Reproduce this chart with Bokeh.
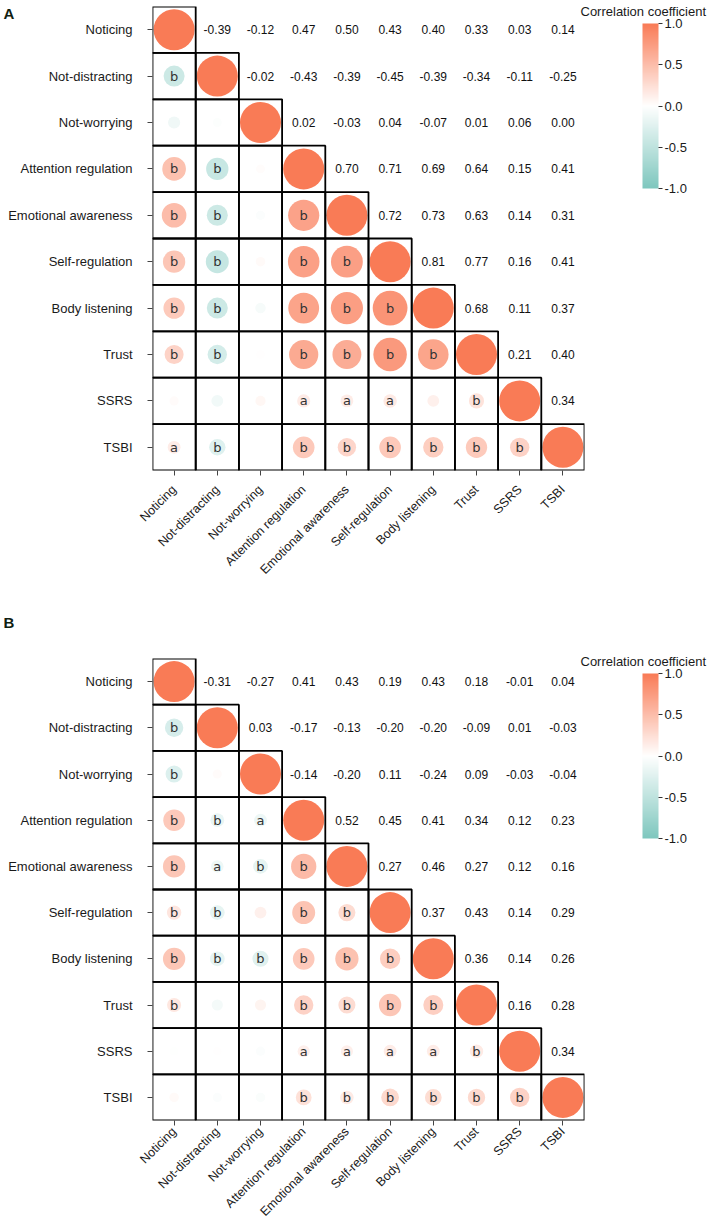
import math
import numpy as np
from bokeh.plotting import figure
from bokeh.layouts import column
from bokeh.models import (ColumnDataSource, FactorRange, LinearColorMapper, ColorBar,
                          FixedTicker, PrintfTickFormatter)
from bokeh.core.properties import value
from bokeh.embed import file_html
from bokeh.resources import INLINE

variables = ["Noticing", "Not-distracting", "Not-worrying", "Attention regulation",
             "Emotional awareness", "Self-regulation", "Body listening", "Trust", "SSRS", "TSBI"]

# ---- Panel A: upper-triangle correlations (row i, columns i+1 ..)
A_noticing = [-0.39, -0.12, 0.47, 0.50, 0.43, 0.40, 0.33, 0.03, 0.14]
A_not_distracting = [-0.02, -0.43, -0.39, -0.45, -0.39, -0.34, -0.11, -0.25]
A_not_worrying = [0.02, -0.03, 0.04, -0.07, 0.01, 0.06, 0.00]
A_attention = [0.70, 0.71, 0.69, 0.64, 0.15, 0.41]
A_emotional = [0.72, 0.73, 0.63, 0.14, 0.31]
A_self_reg = [0.81, 0.77, 0.16, 0.41]
A_body = [0.68, 0.11, 0.37]
A_trust = [0.21, 0.40]
A_ssrs = [0.34]

# Panel A: significance letters, lower triangle (row i, columns 0 .. i-1)
A_let_not_distracting = ["b"]
A_let_not_worrying = ["", ""]
A_let_attention = ["b", "b", ""]
A_let_emotional = ["b", "b", "", "b"]
A_let_self_reg = ["b", "b", "", "b", "b"]
A_let_body = ["b", "b", "", "b", "b", "b"]
A_let_trust = ["b", "b", "", "b", "b", "b", "b"]
A_let_ssrs = ["", "", "", "a", "a", "a", "", "b"]
A_let_tsbi = ["a", "b", "", "b", "b", "b", "b", "b", "b"]

# ---- Panel B
B_noticing = [-0.31, -0.27, 0.41, 0.43, 0.19, 0.43, 0.18, -0.01, 0.04]
B_not_distracting = [0.03, -0.17, -0.13, -0.20, -0.20, -0.09, 0.01, -0.03]
B_not_worrying = [-0.14, -0.20, 0.11, -0.24, 0.09, -0.03, -0.04]
B_attention = [0.52, 0.45, 0.41, 0.34, 0.12, 0.23]
B_emotional = [0.27, 0.46, 0.27, 0.12, 0.16]
B_self_reg = [0.37, 0.43, 0.14, 0.29]
B_body = [0.36, 0.14, 0.26]
B_trust = [0.16, 0.28]
B_ssrs = [0.34]

B_let_not_distracting = ["b"]
B_let_not_worrying = ["b", ""]
B_let_attention = ["b", "b", "a"]
B_let_emotional = ["b", "a", "b", "b"]
B_let_self_reg = ["b", "b", "", "b", "b"]
B_let_body = ["b", "b", "b", "b", "b", "b"]
B_let_trust = ["b", "", "", "b", "b", "b", "b"]
B_let_ssrs = ["", "", "", "a", "a", "a", "a", "b"]
B_let_tsbi = ["", "", "", "b", "b", "b", "b", "b", "b"]

colorbar_ticks = [-1.0, -0.5, 0.0, 0.5, 1.0]
colorbar_title = "Correlation coefficient"

LOW_COLOR = (126, 199, 190)
MID_COLOR = (255, 255, 255)
HIGH_COLOR = (249, 123, 86)


def make_palette(n=128):
    pal = []
    for t in np.linspace(0, 1, n):
        c = [int(round(a + (b - a) * t)) for a, b in zip(LOW_COLOR, MID_COLOR)]
        pal.append("#%02x%02x%02x" % tuple(c))
    for t in np.linspace(0, 1, n)[1:]:
        c = [int(round(a + (b - a) * t)) for a, b in zip(MID_COLOR, HIGH_COLOR)]
        pal.append("#%02x%02x%02x" % tuple(c))
    return pal


PALETTE = make_palette()


def caption(text, loc, size, bold=False, color="#1a1a1a"):
    """A text-only colour-bar annotation (its bar is transparent) used as a free caption."""
    return ColorBar(color_mapper=LinearColorMapper(palette=["#ffffff"], low=0, high=1),
                    orientation="horizontal",
                    title=text, title_text_font="Liberation Sans", title_text_font_size=size,
                    title_text_font_style="bold" if bold else "normal",
                    title_text_color=color, title_standoff=0,
                    width=1, height=1, scale_alpha=0, location=loc,
                    ticker=FixedTicker(ticks=[]), major_tick_line_color=None,
                    minor_tick_line_color=None, major_label_text_alpha=0,
                    bar_line_color=None, border_line_color=None,
                    background_fill_color=None, padding=0, margin=0)


def build_panel(tag, upper_rows, letter_rows, height, top, bottom, xstandoff, tag_y):
    n = len(variables)
    M = np.eye(n)
    for i, row in enumerate(upper_rows):
        for k, v in enumerate(row):
            j = i + 1 + k
            M[i, j] = v
            M[j, i] = v
    L = [[""] * n for _ in range(n)]
    for k, row in enumerate(letter_rows):
        i = k + 1
        for j, s in enumerate(row):
            L[i][j] = s

    lx, ly, lr, lrad, llet = [], [], [], [], []
    ux, uy, utxt = [], [], []
    for i in range(n):
        for j in range(n):
            r = M[i, j]
            if j <= i:
                lx.append(variables[j]); ly.append(variables[i]); lr.append(r)
                lrad.append(0.095 + 0.38 * abs(r))
                llet.append(L[i][j])
            else:
                ux.append(variables[j]); uy.append(variables[i]); utxt.append(f"{r:.2f}")

    low_src = ColumnDataSource(dict(x=lx, y=ly, r=lr, rad=lrad, letter=llet))
    up_src = ColumnDataSource(dict(x=ux, y=uy, text=utxt))
    let_idx = [k for k, s in enumerate(llet) if s]
    let_src = ColumnDataSource(dict(x=[lx[k] for k in let_idx], y=[ly[k] for k in let_idx],
                                    text=[llet[k] for k in let_idx]))

    mapper = LinearColorMapper(palette=PALETTE, low=-1, high=1)

    p = figure(width=715, height=height,
               x_range=FactorRange(factors=variables),
               y_range=FactorRange(factors=variables[::-1]),
               output_backend="svg", toolbar_location=None,
               min_border_left=152, min_border_right=131,
               min_border_top=top, min_border_bottom=bottom)
    p.outline_line_color = None
    p.grid.visible = False
    p.background_fill_color = "white"

    p.circle(x="x", y="y", radius="rad", source=low_src,
             fill_color={"field": "r", "transform": mapper}, line_color=None)
    p.rect(x="x", y="y", width=1, height=1, source=low_src,
           fill_color=None, line_color="black", line_width=1.8)
    p.text(x="x", y="y", text="text", source=let_src, text_align="center",
           text_baseline="middle", text_font=value("DejaVu Sans"),
           text_font_size="13px", text_color="#333333")
    p.text(x="x", y="y", text="text", source=up_src, text_align="center",
           text_baseline="middle", text_font=value("Liberation Sans"),
           text_font_size="12px", text_color="#111111")

    for ax in (p.xaxis, p.yaxis):
        ax.axis_line_color = None
        ax.major_tick_out = 5
        ax.major_tick_in = 0
        ax.major_tick_line_color = "#444444"
        ax.major_label_text_font = "Liberation Sans"
        ax.major_label_text_color = "#1a1a1a"
    p.yaxis.major_label_text_font_size = "13px"
    p.yaxis.major_label_standoff = 15
    p.xaxis.major_label_text_font_size = "12.5px"
    p.xaxis.major_label_orientation = math.pi / 4
    p.xaxis.major_label_standoff = xstandoff

    cb = ColorBar(color_mapper=mapper, location=(490, 282), width=16, height=165,
                  padding=0, margin=0, ticker=FixedTicker(ticks=colorbar_ticks),
                  formatter=PrintfTickFormatter(format="%.1f"),
                  major_tick_in=0, major_tick_out=4, major_tick_line_color="#333333",
                  minor_tick_line_color=None,
                  major_label_text_font="Liberation Sans", major_label_text_font_size="13px",
                  major_label_text_color="#1a1a1a", label_standoff=2,
                  bar_line_color=None, border_line_color=None, background_fill_color=None)
    p.add_layout(cb, "center")

    p.add_layout(caption(colorbar_title, (428, 451), "13px"), "center")
    p.add_layout(caption(tag, (-149, tag_y), "15px", bold=True, color="#102010"), "center")
    return p


pA = build_panel("A",
                 [A_noticing, A_not_distracting, A_not_worrying, A_attention, A_emotional,
                  A_self_reg, A_body, A_trust, A_ssrs],
                 [A_let_not_distracting, A_let_not_worrying, A_let_attention, A_let_emotional,
                  A_let_self_reg, A_let_body, A_let_trust, A_let_ssrs, A_let_tsbi],
                 height=600, top=6, bottom=130, xstandoff=12, tag_y=448)
pB = build_panel("B",
                 [B_noticing, B_not_distracting, B_not_worrying, B_attention, B_emotional,
                  B_self_reg, B_body, B_trust, B_ssrs],
                 [B_let_not_distracting, B_let_not_worrying, B_let_attention, B_let_emotional,
                  B_let_self_reg, B_let_body, B_let_trust, B_let_ssrs, B_let_tsbi],
                 height=626, top=58, bottom=104, xstandoff=4, tag_y=489)

layout = column(pA, pB, spacing=0)
open("out.html", "w").write(file_html(layout, INLINE))
